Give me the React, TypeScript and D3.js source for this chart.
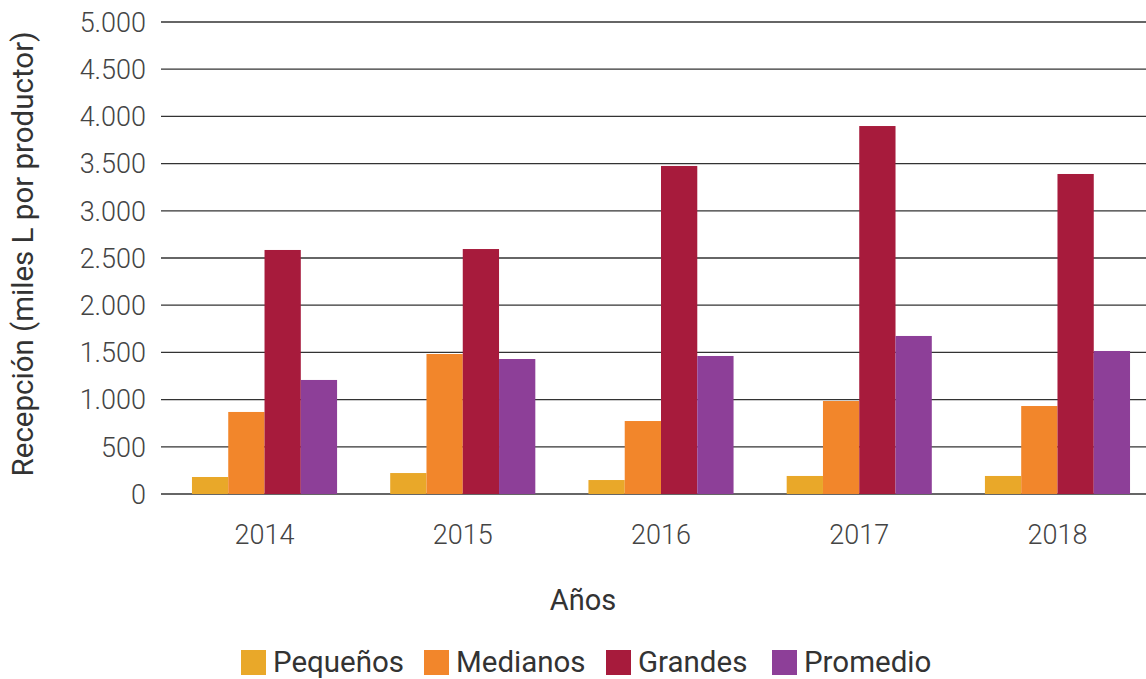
import React, { useEffect, useRef } from "react";
import * as d3 from "d3";

const years = ["2014", "2015", "2016", "2017", "2018"];
const seriesNames = ["Pequeños", "Medianos", "Grandes", "Promedio"];
const seriesColors = ["#E9A829", "#F2862B", "#A71B3C", "#8D3F98"];
const pequenos = [180, 222, 148, 191, 191];
const medianos = [869, 1483, 773, 985, 932];
const grandes = [2585, 2595, 3475, 3898, 3390];
const promedio = [1208, 1430, 1462, 1674, 1515];
const yTicks = [0, 500, 1000, 1500, 2000, 2500, 3000, 3500, 4000, 4500, 5000];

const WIDTH = 1146;
const HEIGHT = 679;

function App() {
  const ref = useRef<SVGSVGElement>(null);

  useEffect(() => {
    const svg = d3.select(ref.current);
    svg.selectAll("*").remove();
    const font = "Roboto, 'Noto Sans', sans-serif";
    const values = [pequenos, medianos, grandes, promedio];

    const y = d3.scaleLinear().domain([0, 5000]).range([494, 22]);
    const x0 = d3.scaleBand().domain(years).range([165.4, 1156.6]);
    const groupW = x0.bandwidth() * 0.732;
    const x1 = d3.scaleBand().domain(seriesNames).range([0, groupW]);
    const off = (x0.bandwidth() - groupW) / 2;

    // gridlines
    svg.append("g")
      .selectAll("line")
      .data(yTicks)
      .join("line")
      .attr("x1", 161)
      .attr("x2", WIDTH)
      .attr("y1", (d) => y(d))
      .attr("y2", (d) => y(d))
      .attr("stroke", "#333")
      .attr("stroke-width", 1.3);

    // y tick labels
    const fmt = (d: number) => d3.format(",")(d).replace(/,/g, ".");
    svg.append("g")
      .selectAll("text")
      .data(yTicks)
      .join("text")
      .attr("x", 146)
      .attr("y", (d) => y(d))
      .attr("dy", "0.36em")
      .attr("text-anchor", "end")
      .attr("font-family", font)
      .attr("font-weight", 300)
      .attr("font-size", 27)
      .attr("fill", "#444")
      .text((d) => fmt(d));

    // bars
    seriesNames.forEach((s, si) => {
      svg.append("g")
        .selectAll("rect")
        .data(years)
        .join("rect")
        .attr("x", (yr) => (x0(yr) as number) + off + (x1(s) as number))
        .attr("width", x1.bandwidth())
        .attr("y", (yr, i) => y(values[si][i]))
        .attr("height", (yr, i) => y(0) - y(values[si][i]))
        .attr("fill", seriesColors[si]);
    });

    // x tick labels
    svg.append("g")
      .selectAll("text")
      .data(years)
      .join("text")
      .attr("x", (yr) => (x0(yr) as number) + x0.bandwidth() / 2)
      .attr("y", 534)
      .attr("dy", "0.36em")
      .attr("text-anchor", "middle")
      .attr("font-family", font)
      .attr("font-weight", 300)
      .attr("font-size", 27)
      .attr("fill", "#444")
      .text((d) => d);

    // axis titles
    svg.append("text")
      .attr("x", 583)
      .attr("y", 600)
      .attr("dy", "0.36em")
      .attr("text-anchor", "middle")
      .attr("font-family", font)
      .attr("font-size", 29)
      .attr("fill", "#333")
      .text("Años");

    svg.append("text")
      .attr("transform", "translate(22,254) rotate(-90)")
      .attr("dy", "0.36em")
      .attr("text-anchor", "middle")
      .attr("font-family", font)
      .attr("font-size", 29.5)
      .attr("fill", "#333")
      .text("Recepción (miles L por productor)");

    // legend
    const legendX = [241, 424, 606, 772];
    const legend = svg.append("g");
    seriesNames.forEach((s, i) => {
      legend.append("rect")
        .attr("x", legendX[i])
        .attr("y", 650)
        .attr("width", 25)
        .attr("height", 25)
        .attr("fill", seriesColors[i]);
      legend.append("text")
        .attr("x", legendX[i] + 32)
        .attr("y", 672)
        .attr("font-family", font)
        .attr("font-size", 29.5)
        .attr("fill", "#333")
        .text(s);
    });
  }, []);

  return (
    <svg
      ref={ref}
      width={WIDTH}
      height={HEIGHT}
      style={{ position: "absolute", left: 0, top: 0, background: "#fff" }}
    />
  );
}

export default App;
